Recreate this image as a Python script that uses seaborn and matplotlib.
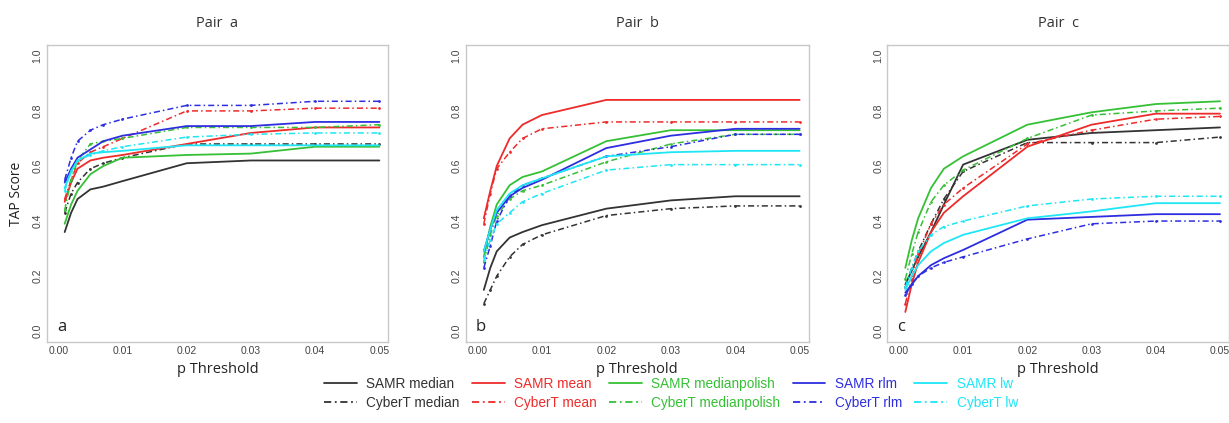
import pandas as pd
import matplotlib.pyplot as plt
import seaborn as sns
from matplotlib.lines import Line2D

# p-value thresholds (x axis)
p_threshold = [0.001, 0.002, 0.003, 0.005, 0.007, 0.01, 0.02, 0.03, 0.04, 0.05]

methods = ["median", "mean", "medianpolish", "rlm", "lw"]
tools = ["SAMR", "CyberT"]
method_colors = {
    "median": "#333333",
    "mean": "#ee2b2b",
    "medianpolish": "#35c035",
    "rlm": "#2e2ee0",
    "lw": "#1ee6f5",
}

# ---- Pair a ----
a_samr_median = [0.36, 0.43, 0.48, 0.515, 0.525, 0.545, 0.61, 0.62, 0.62, 0.62]
a_cybert_median = [0.43, 0.50, 0.54, 0.59, 0.61, 0.63, 0.68, 0.68, 0.68, 0.68]
a_samr_mean = [0.47, 0.54, 0.59, 0.62, 0.63, 0.64, 0.68, 0.72, 0.74, 0.74]
a_cybert_mean = [0.48, 0.55, 0.61, 0.65, 0.67, 0.70, 0.80, 0.80, 0.81, 0.81]
a_samr_medianpolish = [0.39, 0.46, 0.51, 0.57, 0.60, 0.63, 0.64, 0.645, 0.67, 0.67]
a_cybert_medianpolish = [0.44, 0.55, 0.62, 0.68, 0.69, 0.70, 0.74, 0.74, 0.74, 0.75]
a_samr_rlm = [0.54, 0.59, 0.63, 0.66, 0.69, 0.71, 0.745, 0.745, 0.76, 0.76]
a_cybert_rlm = [0.55, 0.63, 0.69, 0.73, 0.75, 0.77, 0.82, 0.82, 0.835, 0.835]
a_samr_lw = [0.52, 0.58, 0.62, 0.645, 0.65, 0.655, 0.675, 0.675, 0.675, 0.675]
a_cybert_lw = [0.51, 0.58, 0.62, 0.64, 0.655, 0.67, 0.705, 0.715, 0.72, 0.72]

# ---- Pair b ----
b_samr_median = [0.15, 0.23, 0.29, 0.34, 0.36, 0.385, 0.445, 0.475, 0.49, 0.49]
b_cybert_median = [0.10, 0.15, 0.20, 0.27, 0.315, 0.35, 0.42, 0.445, 0.455, 0.455]
b_samr_mean = [0.41, 0.51, 0.60, 0.70, 0.75, 0.785, 0.84, 0.84, 0.84, 0.84]
b_cybert_mean = [0.39, 0.50, 0.59, 0.65, 0.70, 0.735, 0.76, 0.76, 0.76, 0.76]
b_samr_medianpolish = [0.27, 0.38, 0.46, 0.53, 0.56, 0.58, 0.69, 0.73, 0.73, 0.73]
b_cybert_medianpolish = [0.25, 0.35, 0.42, 0.48, 0.51, 0.53, 0.615, 0.68, 0.715, 0.715]
b_samr_rlm = [0.29, 0.37, 0.43, 0.49, 0.52, 0.55, 0.665, 0.71, 0.735, 0.735]
b_cybert_rlm = [0.23, 0.31, 0.40, 0.49, 0.53, 0.555, 0.635, 0.67, 0.715, 0.715]
b_samr_lw = [0.29, 0.37, 0.44, 0.50, 0.53, 0.555, 0.635, 0.65, 0.655, 0.655]
b_cybert_lw = [0.26, 0.33, 0.39, 0.43, 0.47, 0.50, 0.585, 0.605, 0.605, 0.605]

# ---- Pair c ----
c_samr_median = [0.17, 0.22, 0.27, 0.36, 0.46, 0.605, 0.695, 0.72, 0.73, 0.74]
c_cybert_median = [0.16, 0.23, 0.29, 0.39, 0.48, 0.58, 0.685, 0.685, 0.685, 0.705]
c_samr_mean = [0.07, 0.17, 0.25, 0.36, 0.43, 0.49, 0.67, 0.75, 0.79, 0.79]
c_cybert_mean = [0.10, 0.19, 0.28, 0.39, 0.46, 0.52, 0.68, 0.73, 0.77, 0.78]
c_samr_medianpolish = [0.23, 0.33, 0.41, 0.52, 0.59, 0.635, 0.75, 0.795, 0.825, 0.835]
c_cybert_medianpolish = [0.19, 0.28, 0.36, 0.47, 0.53, 0.585, 0.70, 0.785, 0.80, 0.81]
c_samr_rlm = [0.14, 0.17, 0.20, 0.24, 0.265, 0.295, 0.405, 0.415, 0.425, 0.425]
c_cybert_rlm = [0.13, 0.17, 0.20, 0.23, 0.25, 0.27, 0.335, 0.39, 0.40, 0.40]
c_samr_lw = [0.15, 0.20, 0.24, 0.29, 0.32, 0.35, 0.41, 0.435, 0.465, 0.465]
c_cybert_lw = [0.16, 0.23, 0.29, 0.35, 0.38, 0.40, 0.455, 0.48, 0.49, 0.49]

pairs = {
    "a": {
        ("SAMR", "median"): a_samr_median, ("CyberT", "median"): a_cybert_median,
        ("SAMR", "mean"): a_samr_mean, ("CyberT", "mean"): a_cybert_mean,
        ("SAMR", "medianpolish"): a_samr_medianpolish, ("CyberT", "medianpolish"): a_cybert_medianpolish,
        ("SAMR", "rlm"): a_samr_rlm, ("CyberT", "rlm"): a_cybert_rlm,
        ("SAMR", "lw"): a_samr_lw, ("CyberT", "lw"): a_cybert_lw,
    },
    "b": {
        ("SAMR", "median"): b_samr_median, ("CyberT", "median"): b_cybert_median,
        ("SAMR", "mean"): b_samr_mean, ("CyberT", "mean"): b_cybert_mean,
        ("SAMR", "medianpolish"): b_samr_medianpolish, ("CyberT", "medianpolish"): b_cybert_medianpolish,
        ("SAMR", "rlm"): b_samr_rlm, ("CyberT", "rlm"): b_cybert_rlm,
        ("SAMR", "lw"): b_samr_lw, ("CyberT", "lw"): b_cybert_lw,
    },
    "c": {
        ("SAMR", "median"): c_samr_median, ("CyberT", "median"): c_cybert_median,
        ("SAMR", "mean"): c_samr_mean, ("CyberT", "mean"): c_cybert_mean,
        ("SAMR", "medianpolish"): c_samr_medianpolish, ("CyberT", "medianpolish"): c_cybert_medianpolish,
        ("SAMR", "rlm"): c_samr_rlm, ("CyberT", "rlm"): c_cybert_rlm,
        ("SAMR", "lw"): c_samr_lw, ("CyberT", "lw"): c_cybert_lw,
    },
}

sns.set_style("white")
plt.rcParams['font.family'] = ['Liberation Sans', 'DejaVu Sans']

DASHDOT = (0, (4, 2, 1, 2))

fig = plt.figure(figsize=(12.29, 4.23), dpi=100)
axes_rects = [
    [0.038, 0.191, 0.278, 0.703],
    [0.379, 0.191, 0.279, 0.703],
    [0.722, 0.191, 0.278, 0.703],
]

for rect, (pair, series) in zip(axes_rects, pairs.items()):
    ax = fig.add_axes(rect)
    for (tool, method), vals in series.items():
        df = pd.DataFrame({"p": p_threshold, "score": vals})
        if tool == "SAMR":
            sns.lineplot(data=df, x="p", y="score", ax=ax, color=method_colors[method],
                         linewidth=1.3, linestyle="-")
        else:
            sns.lineplot(data=df, x="p", y="score", ax=ax, color=method_colors[method],
                         linewidth=1.1, linestyle=DASHDOT, marker="o", markersize=2,
                         markeredgewidth=0)
    ax.set_xlim(-0.0018, 0.0514)
    ax.set_ylim(-0.04, 1.04)
    ax.set_xticks([0.00, 0.01, 0.02, 0.03, 0.04, 0.05])
    ax.set_xticklabels(["0.00", "0.01", "0.02", "0.03", "0.04", "0.05"])
    ax.set_yticks([0.0, 0.2, 0.4, 0.6, 0.8, 1.0])
    ax.set_yticklabels(["0.0", "0.2", "0.4", "0.6", "0.8", "1.0"], rotation=90, va="center")
    ax.tick_params(axis="both", length=0, labelsize=7.5, labelcolor="#444444", pad=3)
    for sp in ax.spines.values():
        sp.set_color("#c8c8c8")
        sp.set_linewidth(1.0)
    ax.set_xlabel("p Threshold", fontsize=10.5, family=['Open Sans', 'DejaVu Sans'],
                  color="#222222", labelpad=4)
    ax.set_ylabel("TAP Score" if pair == "a" else "", fontsize=10,
                  family=['Open Sans', 'DejaVu Sans'], color="#222222", labelpad=6)
    ax.set_title(f"Pair  {pair}", fontsize=10.5, family=['Open Sans', 'DejaVu Sans'],
                 color="#333333", pad=13)
    ax.text(0.03, 0.05, pair, transform=ax.transAxes, fontsize=12,
            family=['Open Sans', 'DejaVu Sans'], color="#222222", va="center")

# legend: two rows (SAMR solid / CyberT dash-dot), five method columns
handles, labels = [], []
for method in methods:
    for tool in tools:
        ls = "-" if tool == "SAMR" else DASHDOT
        handles.append(Line2D([0], [0], color=method_colors[method], linewidth=1.3, linestyle=ls))
        labels.append(f"{tool} {method}")
leg = fig.legend(handles, labels, ncol=5, loc="center", bbox_to_anchor=(0.546, 0.07),
                 frameon=False, handlelength=2.4, columnspacing=0.9,
                 handletextpad=0.7, labelspacing=0.35,
                 prop={'family': ['Liberation Sans', 'DejaVu Sans'], 'size': 9.8})
for txt, h in zip(leg.get_texts(), handles):
    txt.set_color(h.get_color())

fig.savefig("out.png", dpi=100, facecolor="white")
